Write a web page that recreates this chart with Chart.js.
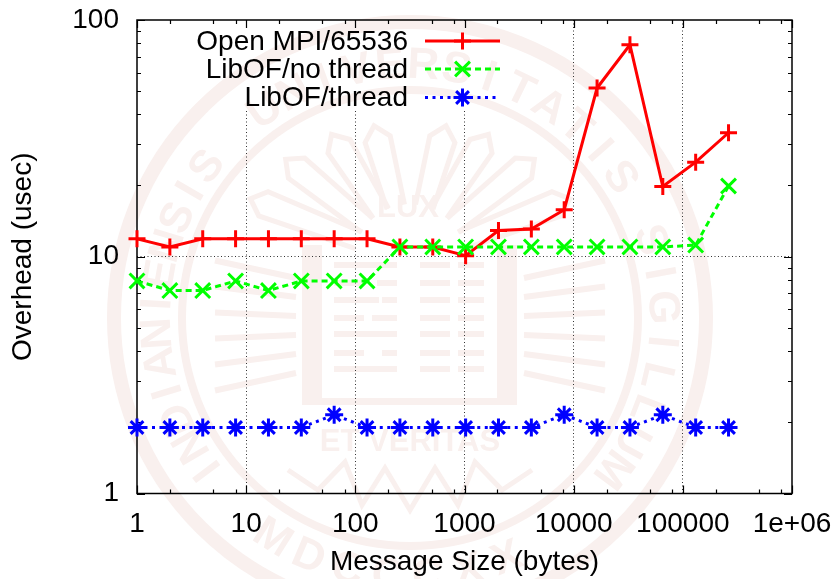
<!DOCTYPE html>
<html>
<head>
<meta charset="utf-8">
<title>Overhead</title>
<script src="https://cdn.jsdelivr.net/npm/chart.js@4/dist/chart.umd.min.js"></script>
<style>
    body { margin: 0; background: #fff; }
    canvas { display: block; }
</style>
</head>
<body>
<canvas id="overheadChart" width="837" height="579"></canvas>
<script>
// message sizes
const sizes = [1, 2, 4, 8, 16, 32, 64, 128, 256, 512, 1024, 2048, 4096, 8192, 16384, 32768, 65536, 131072, 262144];

// overhead values
const openMpi = [11.9, 11, 11.9, 11.9, 11.9, 11.9, 11.9, 11.9, 11, 11, 10.1, 12.9, 13.1, 15.8, 51.6, 78.6, 19.8, 25.1, 33.4];
const libofNoThread = [7.9, 7.2, 7.2, 7.9, 7.2, 7.9, 7.9, 7.9, 11, 11, 11, 11, 11, 11, 11, 11, 11, 11.2, 19.9];
const libofThread = [1.9, 1.9, 1.9, 1.9, 1.9, 1.9, 2.15, 1.9, 1.9, 1.9, 1.9, 1.9, 1.9, 2.15, 1.9, 1.9, 2.15, 1.9, 1.9];

const seriesNames = ["Open MPI/65536", "LibOF/no thread", "LibOF/thread"];
const seriesColors = ["#ff0000", "#00ff00", "#0000ff"];
const seriesDashes = [[], [6, 4], [3, 4.5]];
const seriesMarkers = ["cross", "crossRot", "star"];
const markerSizes = [8.5, 10.5, 9];

// ticks
const xMajor = [1, 10, 100, 1000, 10000, 100000, 1000000];
const xLabels = ["1", "10", "100", "1000", "10000", "100000", "1e+06"];
const xMinor = [2, 5, 8, 20, 50, 80, 200, 500, 800, 2000, 5000, 8000, 20000, 50000, 80000, 200000, 500000, 800000];
const yMajor = [1, 10, 100];
const yLabels = ["1", "10", "100"];
const yMinor = [2, 3, 4, 5, 6, 7, 8, 9, 20, 30, 40, 50, 60, 70, 80, 90];

const FONT = '"Liberation Sans", Arial, sans-serif';
const SEAL = "#f9f0ee";
const SEAL_X = 410;
const SEAL_Y = 318;

// background seal (just decoration behind the plot)
function ringText(ctx, text, start, step, radius, flipped) {
    for (let i = 0; i < text.length; i++) {
        const a = (start + i * step) * Math.PI / 180;
        ctx.save();
        ctx.translate(SEAL_X, SEAL_Y);
        if (flipped) {
            ctx.rotate(a + Math.PI);
            ctx.fillText(text[i], 0, radius + 32);
        } else {
            ctx.rotate(a);
            ctx.fillText(text[i], 0, -radius);
        }
        ctx.restore();
    }
}

function flame(ctx, angle, len) {
    ctx.save();
    ctx.translate(410, 260);
    ctx.rotate(angle * Math.PI / 180);
    ctx.beginPath();
    ctx.moveTo(-9, -55);
    ctx.lineTo(-13, -len + 14);
    ctx.lineTo(0, -len);
    ctx.lineTo(13, -len + 14);
    ctx.lineTo(9, -55);
    ctx.stroke();
    ctx.restore();
}

function drawSeal(ctx) {
    ctx.save();
    ctx.strokeStyle = SEAL;
    ctx.fillStyle = SEAL;

    ctx.lineWidth = 14;
    ctx.beginPath(); ctx.arc(SEAL_X, SEAL_Y, 296, 0, Math.PI * 2); ctx.stroke();
    ctx.lineWidth = 8;
    ctx.beginPath(); ctx.arc(SEAL_X, SEAL_Y, 228, 0, Math.PI * 2); ctx.stroke();

    ctx.font = "bold 44px " + FONT;
    ctx.textAlign = "center";
    ctx.textBaseline = "alphabetic";
    ringText(ctx, "UNIVERSITATIS", -35, 7.6, 240, false);
    ringText(ctx, "SIGILLUM", 72, 7.8, 240, false);
    ringText(ctx, "MDCCCXX", 212, -9, 240, true);
    ringText(ctx, "INDIANIENSIS", 233, 6.7, 240, false);

    // book
    ctx.fillRect(302, 245, 20, 160);
    ctx.fillRect(497, 245, 20, 160);
    ctx.fillRect(302, 398, 215, 7);
    const stripes = [265, 283, 300, 318, 334, 353, 369];
    stripes.forEach(function (y, i) {
        ctx.fillRect(334, y - 3, i % 2 ? 30 : 45, 6);
        ctx.fillRect(372 + (i % 3) * 5, y - 3, 25 - (i % 3) * 5, 6);
        ctx.fillRect(420, y - 3, 30, 6);
        ctx.fillRect(458, y - 3, 26, 6);
    });

    // flames, side rays, zigzag under the book
    ctx.lineWidth = 5;
    flame(ctx, -69, 171); flame(ctx, -51, 160); flame(ctx, -32, 148); flame(ctx, -15, 139);
    flame(ctx, 15, 139); flame(ctx, 32, 148); flame(ctx, 51, 160); flame(ctx, 69, 171);
    ctx.lineWidth = 6;
    for (let i = 0; i < 6; i++) {
        const y = 278 + i * 19;
        ctx.beginPath(); ctx.moveTo(296, y); ctx.lineTo(215, y + (i - 2.5) * 7); ctx.stroke();
        ctx.beginPath(); ctx.moveTo(524, y); ctx.lineTo(605, y + (i - 2.5) * 7); ctx.stroke();
    }
    ctx.lineWidth = 5;
    ctx.beginPath();
    ctx.moveTo(288, 470); ctx.lineTo(318, 490); ctx.lineTo(345, 462); ctx.lineTo(362, 505);
    ctx.lineTo(385, 468); ctx.lineTo(410, 510); ctx.lineTo(435, 468); ctx.lineTo(458, 505);
    ctx.lineTo(475, 462); ctx.lineTo(502, 490); ctx.lineTo(532, 470);
    ctx.stroke();

    ctx.font = "bold 31px " + FONT;
    ctx.fillText("LUX", 408, 217);
    ctx.font = "bold 31px " + FONT;
    ctx.fillText("ET VERITAS", 410, 451);
    ctx.restore();
}

// seal first, frame + inward ticks + key after the grid
const gnuplotLook = {
    id: "gnuplotLook",
    beforeDraw(chart) {
        const ctx = chart.ctx;
        ctx.save();
        ctx.fillStyle = "#fff";
        ctx.fillRect(0, 0, chart.width, chart.height);
        drawSeal(ctx);
        ctx.restore();
    },
    beforeDatasetsDraw(chart) {
        const ctx = chart.ctx;
        const area = chart.chartArea;
        const xs = chart.scales.x;
        const ys = chart.scales.y;

        // the key box hides the grid but not the seal
        ctx.save();
        ctx.beginPath();
        ctx.rect(190, area.top + 1, 315, 90);
        ctx.clip();
        ctx.fillStyle = "#fff";
        ctx.fillRect(190, area.top, 315, 91);
        drawSeal(ctx);
        ctx.restore();

        ctx.save();
        ctx.strokeStyle = "#000";
        ctx.lineWidth = 1.5;
        ctx.strokeRect(area.left, area.top, area.width, area.height);
        ctx.lineWidth = 1.2;
        ctx.beginPath();
        function xTick(v, len) {
            const p = Math.round(xs.getPixelForValue(v)) + 0.5;
            ctx.moveTo(p, area.bottom); ctx.lineTo(p, area.bottom - len);
            ctx.moveTo(p, area.top); ctx.lineTo(p, area.top + len);
        }
        function yTick(v, len) {
            const p = Math.round(ys.getPixelForValue(v)) + 0.5;
            ctx.moveTo(area.left, p); ctx.lineTo(area.left + len, p);
            ctx.moveTo(area.right, p); ctx.lineTo(area.right - len, p);
        }
        xMajor.forEach(v => xTick(v, 8));
        xMinor.forEach(v => xTick(v, 4));
        yMajor.forEach(v => yTick(v, 8));
        yMinor.forEach(v => yTick(v, 4));
        ctx.stroke();
        ctx.restore();
    },
    afterDatasetsDraw(chart) {
        const ctx = chart.ctx;
        const keyY = [41, 69, 97.5];
        ctx.save();
        ctx.font = "28px " + FONT;
        ctx.textAlign = "right";
        ctx.textBaseline = "middle";
        seriesNames.forEach(function (name, i) {
            ctx.fillStyle = "#000";
            ctx.fillText(name, 408, keyY[i] + 1);
            ctx.strokeStyle = seriesColors[i];
            ctx.lineWidth = 3;
            ctx.setLineDash(seriesDashes[i]);
            ctx.beginPath();
            ctx.moveTo(425, keyY[i]);
            ctx.lineTo(500, keyY[i]);
            ctx.stroke();
            ctx.setLineDash([]);
            Chart.helpers.drawPoint(ctx, {
                pointStyle: seriesMarkers[i],
                radius: markerSizes[i],
                borderWidth: 3,
                borderColor: seriesColors[i],
                backgroundColor: seriesColors[i],
                rotation: 0
            }, 462.5, keyY[i]);
        });
        ctx.restore();
    }
};

function makeSeries(i, values) {
    return {
        label: seriesNames[i],
        data: sizes.map((s, k) => ({ x: s, y: values[k] })),
        borderColor: seriesColors[i],
        backgroundColor: seriesColors[i],
        borderWidth: 3,
        borderDash: seriesDashes[i],
        pointStyle: seriesMarkers[i],
        pointRadius: markerSizes[i],
        pointBorderWidth: 3,
        pointBorderColor: seriesColors[i],
        tension: 0,
        clip: false,
        order: 3 - i
    };
}

// fixed plot box, no extra room for the end labels
function noPadding(scale) {
    scale.paddingLeft = 0;
    scale.paddingRight = 0;
    scale.paddingTop = 0;
    scale.paddingBottom = 0;
}

new Chart(document.getElementById("overheadChart"), {
    type: "line",
    data: {
        datasets: [makeSeries(0, openMpi), makeSeries(1, libofNoThread), makeSeries(2, libofThread)]
    },
    plugins: [gnuplotLook],
    options: {
        responsive: false,
        animation: false,
        layout: { padding: { left: 0, top: 20, right: 45, bottom: 0 } },
        plugins: { legend: { display: false }, tooltip: { enabled: false } },
        scales: {
            x: {
                type: "logarithmic",
                min: 1,
                max: 1000000,
                afterBuildTicks(scale) { scale.ticks = xMajor.map(v => ({ value: v })); },
                afterFit(scale) { scale.height = 85.5; noPadding(scale); },
                ticks: {
                    autoSkip: false,
                    maxRotation: 0,
                    padding: 14,
                    color: "#000",
                    font: { family: FONT, size: 28 },
                    callback: (v) => xLabels[xMajor.indexOf(v)]
                },
                border: { display: false, dash: [1, 2.5] },
                grid: {
                    drawTicks: false,
                    lineWidth: 1,
                    color: (c) => (c.tick && c.tick.value > 1 && c.tick.value < 1000000) ? "#333" : "transparent"
                },
                title: {
                    display: true,
                    text: "Message Size (bytes)",
                    color: "#000",
                    font: { family: FONT, size: 28 },
                    padding: { top: 8, bottom: 0 }
                }
            },
            y: {
                type: "logarithmic",
                min: 1,
                max: 100,
                afterBuildTicks(scale) { scale.ticks = yMajor.map(v => ({ value: v })); },
                afterFit(scale) { scale.width = 137; noPadding(scale); },
                ticks: {
                    autoSkip: false,
                    padding: 18,
                    color: "#000",
                    font: { family: FONT, size: 28 },
                    callback: (v) => yLabels[yMajor.indexOf(v)]
                },
                border: { display: false, dash: [1, 2.5] },
                grid: {
                    drawTicks: false,
                    lineWidth: 1,
                    color: (c) => (c.tick && c.tick.value === 10) ? "#333" : "transparent"
                },
                title: {
                    display: true,
                    text: "Overhead (usec)",
                    color: "#000",
                    font: { family: FONT, size: 28 },
                    padding: { top: 6, bottom: 0 }
                }
            }
        }
    }
});
</script>
</body>
</html>
